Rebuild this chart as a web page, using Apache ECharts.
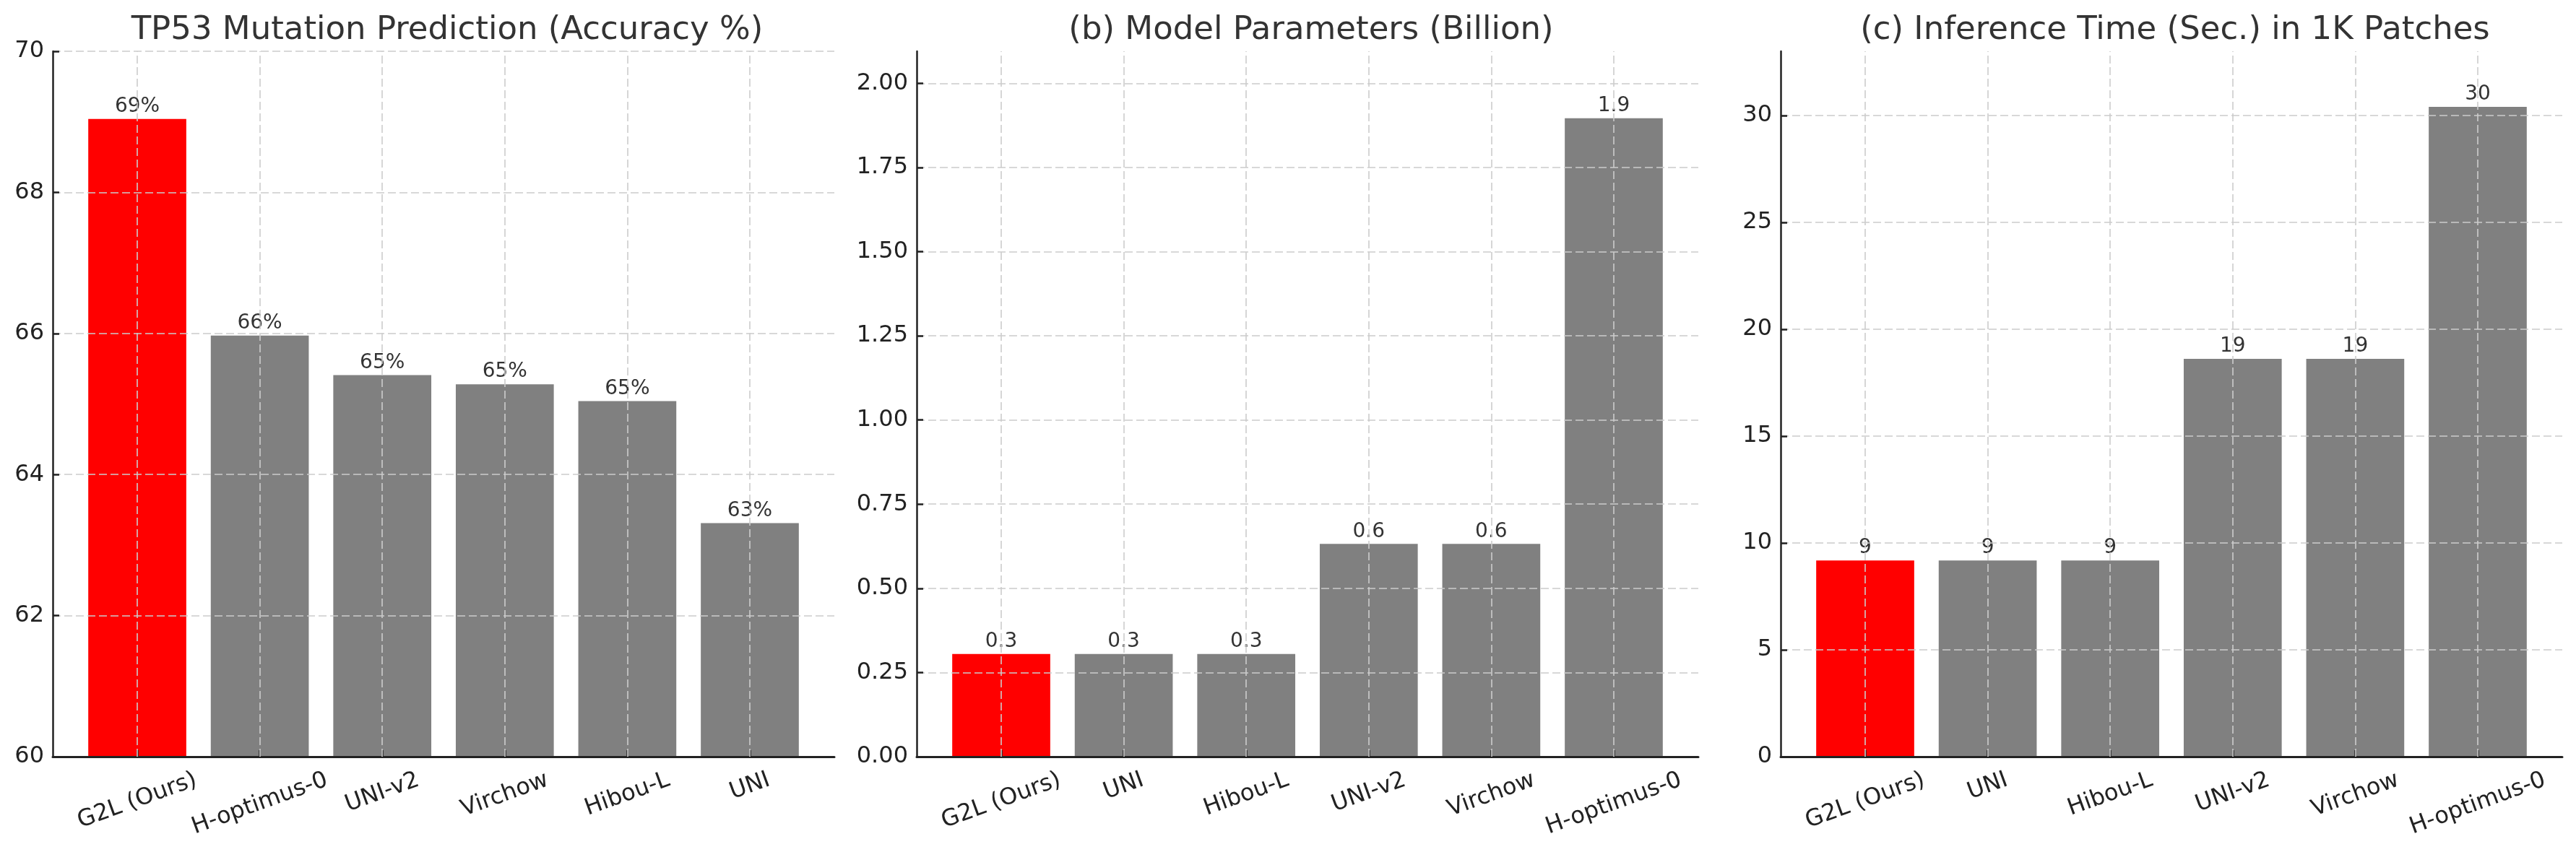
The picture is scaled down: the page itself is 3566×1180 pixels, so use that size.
<!DOCTYPE html>
<html><head><meta charset="utf-8">
<script src="https://cdn.jsdelivr.net/npm/echarts@6/dist/echarts.min.js"></script>
<style>html,body{margin:0;padding:0;background:#fff}#c{width:3566px;height:1180px}</style>
</head><body><div id="c"></div>
<script>
// ---------- data ----------
const titles = ['TP53 Mutation Prediction (Accuracy %)', '(b) Model Parameters (Billion)', '(c) Inference Time (Sec.) in 1K Patches'];
const catsAcc = ['G2L (Ours)', 'H-optimus-0', 'UNI-v2', 'Virchow', 'Hibou-L', 'UNI'];
const valsAcc = [69.04, 65.97, 65.41, 65.28, 65.04, 63.31];
const catsParams = ['G2L (Ours)', 'UNI', 'Hibou-L', 'UNI-v2', 'Virchow', 'H-optimus-0'];
const valsParams = [0.305, 0.305, 0.305, 0.632, 0.632, 1.896];
const catsTime = ['G2L (Ours)', 'UNI', 'Hibou-L', 'UNI-v2', 'Virchow', 'H-optimus-0'];
const valsTime = [9.18, 9.18, 9.18, 18.61, 18.61, 30.4];
const highlight = 'G2L (Ours)';
const yTicksAcc = [60, 62, 64, 66, 68, 70];
const yTicksParams = [0.00, 0.25, 0.50, 0.75, 1.00, 1.25, 1.50, 1.75, 2.00];
const yTicksTime = [0, 5, 10, 15, 20, 25, 30];
const yMaxAcc = 70, yMaxParams = 2.095, yMaxTime = 33.0;

// ---------- layout / style ----------
const FONT = 'DejaVu Sans';
const LEFTS = [73, 1269, 2465], W = 1082, TOP = 71, BOT = 1048, H = BOT - TOP, CH = 1180;
const band = W / 6.38, inset = 0.19 * band;
const theta = 20 * Math.PI / 180, LH = 37, PAD = 14, XFS = 32;
const GRID_COLOR = '#cccccc', DASH = [11, 5];

const cv = document.createElement('canvas').getContext('2d');
cv.font = XFS + 'px "' + FONT + '"';

const panels = [
  { cats: catsAcc, vals: valsAcc, ticks: yTicksAcc, max: yMaxAcc, fmtTick: v => String(Math.round(v)), fmtBar: v => Math.round(v) + '%' },
  { cats: catsParams, vals: valsParams, ticks: yTicksParams, max: yMaxParams, fmtTick: v => v.toFixed(2), fmtBar: v => v.toFixed(1) },
  { cats: catsTime, vals: valsTime, ticks: yTicksTime, max: yMaxTime, fmtTick: v => String(Math.round(v)), fmtBar: v => String(Math.round(v)) }
];

const grid = [], xAxis = [], yAxis = [], series = [], title = [];
panels.forEach((p, k) => {
  const L = LEFTS[k];
  const min = p.ticks[0], last = p.ticks[p.ticks.length - 1];
  const interval = p.ticks[1] - p.ticks[0];
  const topA = TOP + H * (1 - (last - min) / (p.max - min));
  const gA = grid.length;
  // grid A: tick labels + horizontal grid lines
  grid.push({ left: L, width: W, top: topA, bottom: CH - BOT });
  xAxis.push({ gridIndex: gA, type: 'value', show: false, min: 0, max: 1 });
  yAxis.push({ gridIndex: gA, type: 'value', min: min, max: last, interval: interval, z: 3,
    axisLine: { show: false },
    axisTick: { show: true, inside: true, length: 9, lineStyle: { color: '#222', width: 2.5 } },
    axisLabel: { show: true, margin: 12, fontSize: 32, fontFamily: FONT, color: '#222', formatter: p.fmtTick },
    splitLine: { show: true, lineStyle: { color: GRID_COLOR, type: DASH, width: 1.6 } } });
  // grid C: spines
  const gC = grid.length;
  grid.push({ left: L, width: W, top: TOP, bottom: CH - BOT });
  xAxis.push({ gridIndex: gC, type: 'value', min: 0, max: 1, z: 4,
    axisLine: { show: true, lineStyle: { color: '#222', width: 3 } },
    axisTick: { show: false }, axisLabel: { show: false }, splitLine: { show: false } });
  yAxis.push({ gridIndex: gC, type: 'value', min: 0, max: 1, z: 4,
    axisLine: { show: true, lineStyle: { color: '#222', width: 2.5 } },
    axisTick: { show: false }, axisLabel: { show: false }, splitLine: { show: false } });
  // grid B: bars
  const gB = grid.length;
  grid.push({ left: L + inset, width: W - 2 * inset, top: TOP, bottom: CH - BOT });
  const rich = {};
  p.cats.forEach((c, i) => {
    const w = cv.measureText(c).width;
    const d = w * Math.sin(theta) / 2;
    rich['l' + i] = { fontSize: XFS, fontFamily: FONT, color: '#222', lineHeight: LH,
      padding: [2 * d * Math.cos(theta), 2 * d * Math.sin(theta), 0, 0] };
  });
  xAxis.push({ gridIndex: gB, type: 'category', data: p.cats, z: 4,
    axisLine: { show: false },
    axisTick: { show: true, inside: true, alignWithLabel: true, length: 9, lineStyle: { color: '#222', width: 2.5 } },
    axisLabel: { show: true, interval: 0, rotate: 20, align: 'center', verticalAlign: 'middle',
      margin: PAD + LH * Math.cos(theta) / 2,
      formatter: (v, i) => '{l' + i + '|' + v + '}', rich: rich },
    splitLine: { show: false } });
  yAxis.push({ gridIndex: gB, type: 'value', min: min, max: p.max, show: false });
  series.push({ type: 'bar', xAxisIndex: gB, yAxisIndex: gB, barWidth: '80%', z: 2,
    data: p.vals.map((v, i) => ({ value: v, itemStyle: { color: p.cats[i] === highlight ? '#ff0000' : '#808080' } })),
    label: { show: true, position: 'top', distance: 3, fontSize: 28, fontFamily: FONT, color: '#333', formatter: o => p.fmtBar(o.value) },
    markLine: { silent: true, symbol: ['none', 'none'], label: { show: false }, z: 5,
      lineStyle: { color: GRID_COLOR, type: DASH, width: 1.6 },
      data: p.cats.map(c => ({ xAxis: c })) } });
  title.push({ text: titles[k], left: L + W / 2, textAlign: 'center', top: 15,
    textStyle: { fontFamily: FONT, fontSize: 45, fontWeight: 'normal', color: '#333' } });
});

const chart = echarts.init(document.getElementById('c'), null, { renderer: 'canvas' });
chart.setOption({ animation: false, backgroundColor: '#fff', title, grid, xAxis, yAxis, series });
</script></body></html>
